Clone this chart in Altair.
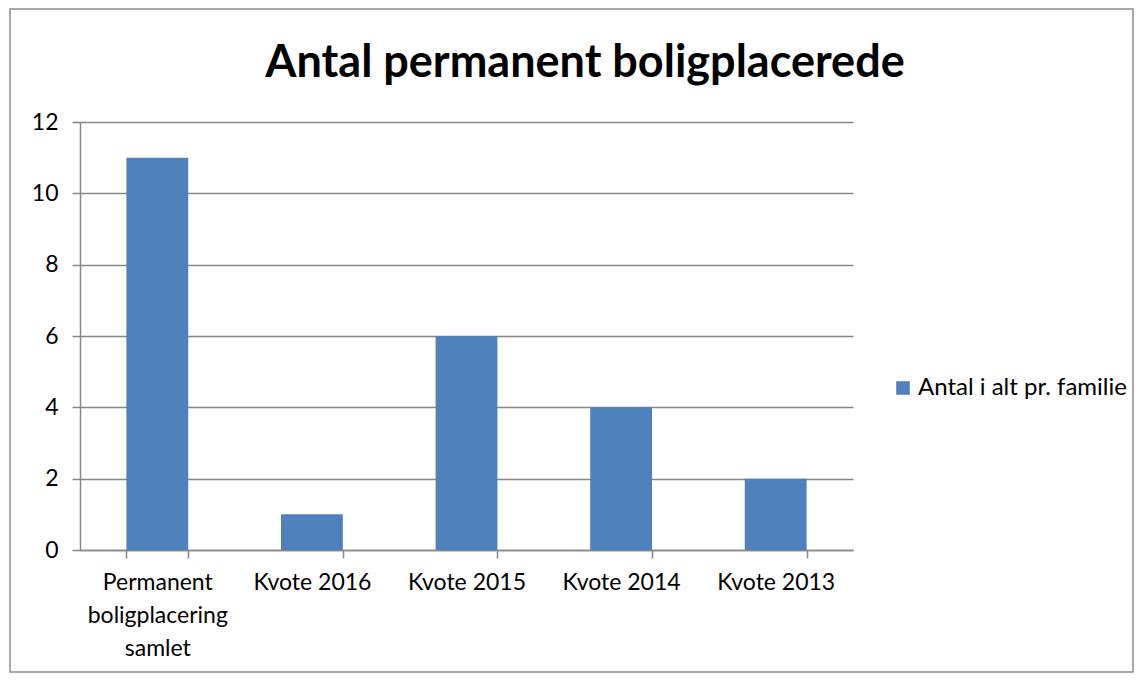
import altair as alt
import pandas as pd

categories = ["Permanent\nboligplacering\nsamlet", "Kvote 2016", "Kvote 2015", "Kvote 2014", "Kvote 2013"]
values = [11, 1, 6, 4, 2]
series_name = "Antal i alt pr. familie"
title_text = "Antal permanent boligplacerede"
y_ticks = [0, 2, 4, 6, 8, 10, 12]

FONT = "Lato"
GRAY = "#868686"
BLUE = "#4F81BD"

df = pd.DataFrame({"cat": categories, "val": values, "series": [series_name] * len(values)})

bars = alt.Chart(df).mark_bar(color=BLUE).encode(
    x=alt.X("cat:N", sort=categories, title=None,
            scale=alt.Scale(paddingInner=0.6, paddingOuter=0.3),
            axis=alt.Axis(labelAngle=0, labelExpr="split(datum.label, '\\n')",
                          labelFont=FONT, labelFontSize=23, labelColor="#000000",
                          labelLineHeight=33, labelPadding=13, labelBaseline="top",
                          tickBand="extent", tickSize=8, tickColor=GRAY, tickWidth=1.5,
                          domainColor=GRAY, domainWidth=1.5, grid=False)),
    y=alt.Y("val:Q", title=None, scale=alt.Scale(domain=[0, 12], nice=False),
            axis=alt.Axis(values=y_ticks, labelFont=FONT, labelFontSize=23, labelColor="#000000",
                          labelPadding=14, tickSize=8, tickColor=GRAY, tickWidth=1.5,
                          domainColor=GRAY, domainWidth=1.5,
                          gridColor=GRAY, gridWidth=1.5)),
    color=alt.Color("series:N", scale=alt.Scale(range=[BLUE]),
                    legend=alt.Legend(title=None, orient="none", legendX=811, legendY=254,
                                      symbolType="square", symbolSize=185, symbolStrokeWidth=0,
                                      labelFont=FONT, labelFontSize=24, labelColor="#000000",
                                      labelLimit=0, padding=0, labelOffset=3)),
)

frame = alt.Chart(pd.DataFrame({"a": [0]})).mark_rect(
    filled=False, stroke="#8c8c8c", strokeWidth=1.5
).encode(
    x=alt.value(-70), x2=alt.value(1053), y=alt.value(-113), y2=alt.value(550)
)

title = alt.Chart(pd.DataFrame({"t": [title_text]})).mark_text(
    font=FONT, fontSize=45, fontWeight="bold", color="#000000",
    align="center", baseline="alphabetic"
).encode(
    text="t:N", x=alt.value(505), y=alt.value(-45)
)

chart = alt.layer(frame, bars, title).properties(
    width=773, height=428,
    padding={"left": 72, "top": 114, "right": 281, "bottom": 123},
    autosize=alt.AutoSizeParams(type="none"),
).configure_view(stroke=None)

chart.save("out.html", embed_options={"renderer": "svg", "actions": False})
